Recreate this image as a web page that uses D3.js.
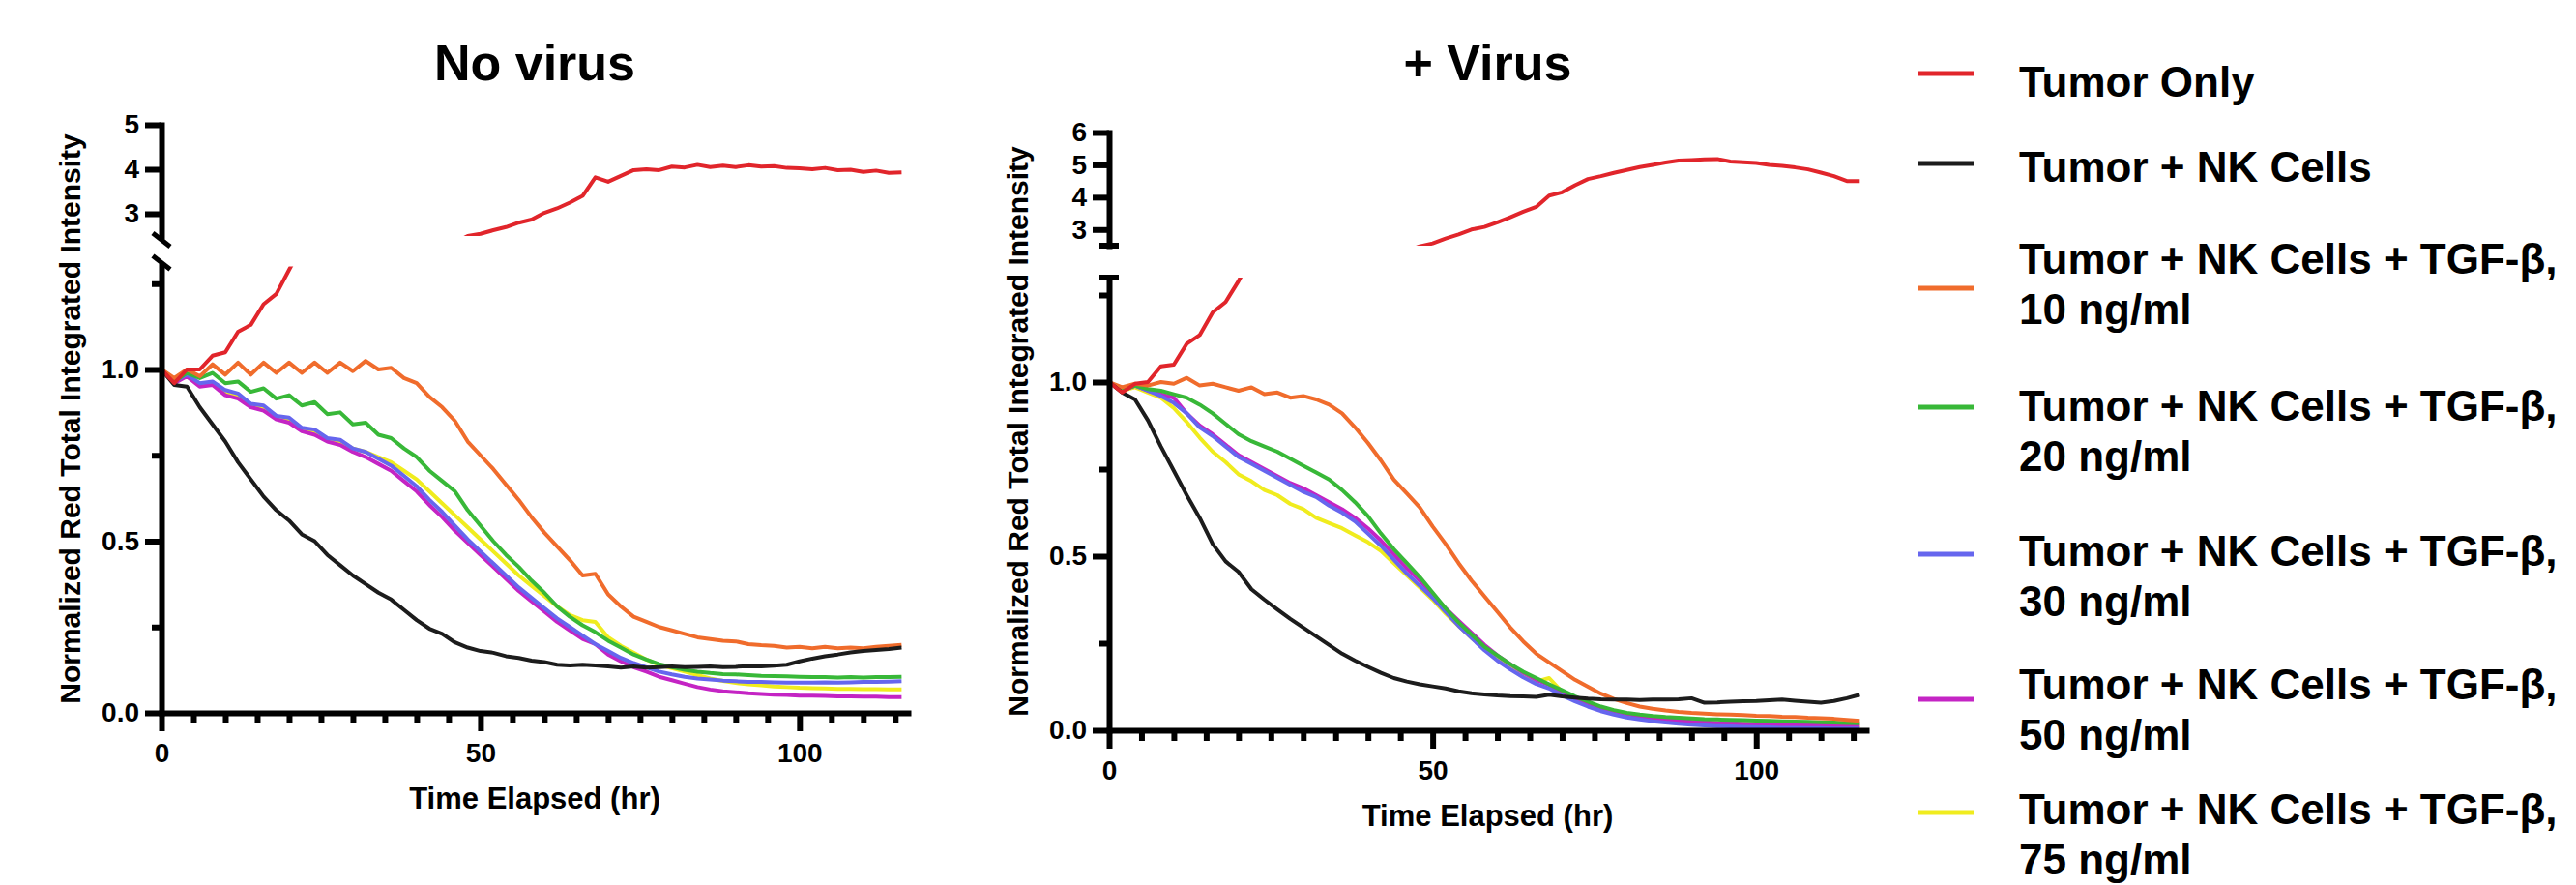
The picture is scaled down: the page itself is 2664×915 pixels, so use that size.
<!DOCTYPE html>
<html>
<head>
<meta charset="utf-8">
<script src="https://cdn.jsdelivr.net/npm/d3@7"></script>
<style>
  body { margin: 0; background: #fff; }
  svg { font-family: "Liberation Sans", Arial, sans-serif; font-weight: bold; }
</style>
</head>
<body>
<svg id="chart" width="2664" height="915"></svg>
<script>
// time points (hr), one scan every 2 hr
var hours = [0, 2, 4, 6, 8, 10, 12, 14, 16, 18,
    20, 22, 24, 26, 28, 30, 32, 34, 36, 38,
    40, 42, 44, 46, 48, 50, 52, 54, 56, 58,
    60, 62, 64, 66, 68, 70, 72, 74, 76, 78,
    80, 82, 84, 86, 88, 90, 92, 94, 96, 98,
    100, 102, 104, 106, 108, 110, 112, 114, 116];

var legendLabels = [
    ["Tumor Only"],
    ["Tumor + NK Cells"],
    ["Tumor + NK Cells + TGF-β,", "10 ng/ml"],
    ["Tumor + NK Cells + TGF-β,", "20 ng/ml"],
    ["Tumor + NK Cells + TGF-β,", "30 ng/ml"],
    ["Tumor + NK Cells + TGF-β,", "50 ng/ml"],
    ["Tumor + NK Cells + TGF-β,", "75 ng/ml"]
];
var seriesColors = ["#e1252b", "#1c1c1c", "#f06c2c", "#38b838", "#6666ee", "#c424c4", "#f0ec1e"];

var panelTitles = ["No virus", "+ Virus"];
var xMajorTicks = [0, 50, 100];
var xMinorTicks = [5, 10, 15, 20, 25, 30, 35, 40, 45, 55, 60, 65, 70, 75, 80, 85, 90, 95, 105, 110, 115];
var lowMajorTicks = [0, 0.5, 1.0];
var lowMinorTicks = [0.25, 0.75, 1.25];
var highTicksNoVirus = [3, 4, 5];
var highTicksVirus = [3, 4, 5, 6];

// ---- No virus ----
var nvTumorOnly = [1.0, 0.96, 1.0, 1.0, 1.04, 1.05, 1.11, 1.13, 1.19, 1.22,
    1.29, 1.36, 1.43, 1.5, 1.57, 1.64, 1.71, 1.78, 1.86, 1.94,
    2.02, 2.1, 2.2, 2.35, 2.5, 2.55, 2.63, 2.7, 2.8, 2.87,
    3.02, 3.12, 3.25, 3.4, 3.82, 3.72, 3.85, 3.98, 4.0, 3.98,
    4.06, 4.04, 4.1, 4.05, 4.08, 4.05, 4.09, 4.06, 4.07, 4.03,
    4.02, 4.0, 4.03, 3.98, 3.99, 3.94, 3.97, 3.92, 3.93];
var nvNK = [1.0, 0.955, 0.95, 0.89, 0.84, 0.79, 0.73, 0.68, 0.63, 0.59,
    0.56, 0.52, 0.5, 0.46, 0.43, 0.4, 0.375, 0.35, 0.33, 0.3,
    0.27, 0.245, 0.23, 0.205, 0.19, 0.18, 0.175, 0.165, 0.16, 0.152,
    0.148, 0.14, 0.138, 0.14, 0.138, 0.135, 0.132, 0.135, 0.132, 0.133,
    0.135, 0.133, 0.134, 0.135, 0.133, 0.134, 0.136, 0.135, 0.137, 0.14,
    0.15, 0.158, 0.165, 0.17, 0.176, 0.18, 0.183, 0.186, 0.19];
var nvTGF10 = [1.0, 0.975, 1.0, 0.98, 1.015, 0.985, 1.02, 0.985, 1.02, 0.99,
    1.02, 0.99, 1.02, 0.99, 1.02, 0.995, 1.025, 1.0, 1.005, 0.975,
    0.96, 0.92, 0.89, 0.85, 0.79, 0.75, 0.71, 0.665, 0.62, 0.57,
    0.525, 0.485, 0.445, 0.4, 0.405, 0.345, 0.31, 0.28, 0.265, 0.25,
    0.24, 0.23, 0.22, 0.215, 0.21, 0.208, 0.2, 0.197, 0.195, 0.19,
    0.192, 0.188, 0.192, 0.188, 0.19, 0.188, 0.192, 0.195, 0.198];
var nvTGF20 = [1.0, 0.965, 0.99, 0.975, 0.99, 0.96, 0.965, 0.935, 0.945, 0.915,
    0.925, 0.895, 0.905, 0.87, 0.875, 0.84, 0.845, 0.81, 0.8, 0.77,
    0.745, 0.705, 0.675, 0.645, 0.59, 0.545, 0.5, 0.46, 0.425, 0.385,
    0.35, 0.31, 0.28, 0.255, 0.235, 0.21, 0.19, 0.17, 0.155, 0.142,
    0.133, 0.125, 0.12, 0.116, 0.113, 0.112, 0.11, 0.108, 0.107, 0.106,
    0.105, 0.104, 0.104, 0.103, 0.104, 0.103, 0.104, 0.104, 0.105];
var nvTGF30 = [1.0, 0.965, 0.985, 0.96, 0.965, 0.94, 0.93, 0.9, 0.895, 0.865,
    0.86, 0.83, 0.825, 0.8, 0.795, 0.77, 0.76, 0.74, 0.72, 0.69,
    0.66, 0.62, 0.585, 0.545, 0.505, 0.47, 0.435, 0.4, 0.365, 0.335,
    0.305, 0.275, 0.25, 0.225, 0.2, 0.18, 0.16, 0.145, 0.133, 0.12,
    0.112, 0.105, 0.1, 0.097, 0.094, 0.092, 0.09, 0.09, 0.089, 0.088,
    0.088, 0.088, 0.089, 0.088, 0.089, 0.09, 0.09, 0.091, 0.092];
var nvTGF50 = [1.0, 0.96, 0.98, 0.95, 0.955, 0.925, 0.915, 0.89, 0.88, 0.855,
    0.845, 0.82, 0.81, 0.79, 0.78, 0.76, 0.745, 0.725, 0.705, 0.675,
    0.645, 0.605, 0.57, 0.53, 0.495, 0.46, 0.425, 0.39, 0.355, 0.325,
    0.295, 0.265, 0.24, 0.215, 0.2, 0.17, 0.15, 0.133, 0.12, 0.105,
    0.095, 0.085, 0.075, 0.068, 0.063, 0.06, 0.057, 0.055, 0.053, 0.052,
    0.05, 0.05, 0.049, 0.048, 0.048, 0.047, 0.047, 0.046, 0.046];
var nvTGF75 = [1.0, 0.96, 0.985, 0.955, 0.96, 0.93, 0.92, 0.895, 0.885, 0.86,
    0.85, 0.825, 0.815, 0.795, 0.79, 0.77, 0.76, 0.745, 0.73, 0.705,
    0.68, 0.645, 0.61, 0.575, 0.54, 0.505, 0.47, 0.435, 0.4, 0.37,
    0.34, 0.31, 0.285, 0.27, 0.265, 0.22, 0.195, 0.175, 0.155, 0.14,
    0.13, 0.12, 0.11, 0.1, 0.093, 0.087, 0.083, 0.08, 0.077, 0.075,
    0.073, 0.072, 0.071, 0.07, 0.07, 0.069, 0.069, 0.068, 0.068];

// ---- + Virus ----
var vTumorOnly = [1.0, 0.97, 0.995, 1.0, 1.045, 1.05, 1.11, 1.135, 1.2, 1.23,
    1.29, 1.36, 1.43, 1.5, 1.58, 1.66, 1.74, 1.82, 1.9, 1.98,
    2.06, 2.14, 2.24, 2.34, 2.48, 2.57, 2.72, 2.85, 3.0, 3.08,
    3.22, 3.38, 3.55, 3.7, 4.05, 4.15, 4.37, 4.56, 4.65, 4.75,
    4.84, 4.93, 5.0, 5.07, 5.13, 5.15, 5.17, 5.18, 5.1, 5.08,
    5.06, 5.0, 4.97, 4.92, 4.86, 4.76, 4.65, 4.5, 4.5];
var vNK = [1.0, 0.97, 0.95, 0.89, 0.815, 0.745, 0.675, 0.61, 0.535, 0.485,
    0.455, 0.405, 0.375, 0.347, 0.32, 0.295, 0.27, 0.245, 0.22, 0.2,
    0.182, 0.165, 0.15, 0.14, 0.132, 0.126, 0.12, 0.112, 0.106, 0.103,
    0.1, 0.098, 0.097, 0.096, 0.102, 0.097, 0.094, 0.091, 0.089, 0.088,
    0.088, 0.087, 0.088, 0.088, 0.089, 0.092, 0.079, 0.08, 0.082, 0.083,
    0.084, 0.086, 0.088, 0.085, 0.082, 0.079, 0.084, 0.092, 0.102];
var vTGF10 = [1.0, 0.985, 0.995, 0.99, 1.0, 0.995, 1.012, 0.99, 0.995, 0.985,
    0.975, 0.985, 0.965, 0.97, 0.955, 0.96, 0.95, 0.935, 0.91, 0.87,
    0.825, 0.775, 0.72, 0.68, 0.64, 0.585, 0.535, 0.48, 0.43, 0.385,
    0.34, 0.295, 0.255, 0.22, 0.195, 0.17, 0.145, 0.125, 0.105, 0.09,
    0.078, 0.068, 0.062, 0.057, 0.053, 0.05, 0.048, 0.046, 0.045, 0.044,
    0.042, 0.041, 0.039, 0.038, 0.036, 0.035, 0.033, 0.03, 0.027];
var vTGF20 = [1.0, 0.975, 0.99, 0.98, 0.975, 0.965, 0.955, 0.935, 0.91, 0.88,
    0.85, 0.83, 0.815, 0.8, 0.78, 0.76, 0.74, 0.72, 0.69, 0.655,
    0.615, 0.565, 0.52, 0.48, 0.44, 0.395, 0.35, 0.31, 0.275, 0.24,
    0.215, 0.19, 0.168, 0.15, 0.132, 0.115, 0.097, 0.082, 0.068, 0.058,
    0.05, 0.045, 0.041, 0.038, 0.036, 0.034, 0.032, 0.031, 0.03, 0.029,
    0.028, 0.027, 0.026, 0.025, 0.024, 0.023, 0.022, 0.021, 0.02];
var vTGF30 = [1.0, 0.975, 0.99, 0.975, 0.96, 0.94, 0.91, 0.87, 0.845, 0.815,
    0.785, 0.765, 0.745, 0.725, 0.705, 0.685, 0.67, 0.645, 0.625, 0.6,
    0.565, 0.53, 0.49, 0.45, 0.415, 0.38, 0.34, 0.3, 0.265, 0.23,
    0.2, 0.175, 0.152, 0.133, 0.12, 0.1, 0.083, 0.068, 0.055, 0.045,
    0.037, 0.031, 0.026, 0.022, 0.019, 0.016, 0.014, 0.012, 0.011, 0.01,
    0.009, 0.008, 0.007, 0.007, 0.006, 0.006, 0.005, 0.005, 0.005];
var vTGF50 = [1.0, 0.975, 0.99, 0.975, 0.965, 0.955, 0.91, 0.875, 0.85, 0.82,
    0.79, 0.77, 0.75, 0.73, 0.71, 0.695, 0.675, 0.655, 0.635, 0.61,
    0.58, 0.545, 0.505, 0.465, 0.43, 0.39, 0.35, 0.315, 0.28, 0.245,
    0.215, 0.19, 0.165, 0.145, 0.13, 0.11, 0.093, 0.078, 0.065, 0.055,
    0.047, 0.04, 0.035, 0.031, 0.028, 0.025, 0.023, 0.021, 0.02, 0.019,
    0.018, 0.017, 0.016, 0.015, 0.015, 0.014, 0.014, 0.013, 0.013];
var vTGF75 = [1.0, 0.975, 0.985, 0.97, 0.955, 0.925, 0.885, 0.84, 0.8, 0.77,
    0.735, 0.715, 0.69, 0.675, 0.65, 0.635, 0.61, 0.595, 0.58, 0.56,
    0.54, 0.515, 0.48, 0.445, 0.41, 0.375, 0.335, 0.3, 0.265, 0.235,
    0.205, 0.18, 0.158, 0.14, 0.15, 0.11, 0.09, 0.075, 0.063, 0.053,
    0.045, 0.039, 0.034, 0.03, 0.027, 0.024, 0.022, 0.02, 0.019, 0.018,
    0.017, 0.016, 0.015, 0.015, 0.014, 0.014, 0.013, 0.013, 0.013];

var xDomain = [0, 117];
var lowDomain = [0, 1.3];

// layout of the two panels (pixel positions only)
var panels = [
    { title: panelTitles[0], data: [nvTumorOnly, nvNK, nvTGF10, nvTGF20, nvTGF30, nvTGF50, nvTGF75],
      left: 167, right: 939, bottom: 737, lowTop: 275.5, highBottom: 244, highTop: 129,
      highDomain: [2.5, 5], highTicks: highTicksNoVirus, breakMark: "slash" },
    { title: panelTitles[1], data: [vTumorOnly, vNK, vTGF10, vTGF20, vTGF30, vTGF50, vTGF75],
      left: 1147, right: 1930, bottom: 755, lowTop: 287, highBottom: 254, highTop: 137,
      highDomain: [2.5, 6], highTicks: highTicksVirus, breakMark: "cap" }
];

var svg = d3.select("#chart");
var defs = svg.append("defs");
var fontFamily = '"Liberation Sans", Arial, sans-serif';

function styleAxis(sel) {
    sel.attr("font-size", 28)
        .attr("font-family", fontFamily)
        .attr("font-weight", "bold");
    sel.selectAll("path, line")
        .attr("stroke", "#000")
        .attr("stroke-width", 6);
    sel.selectAll(".domain").attr("stroke-linecap", "square");
    sel.selectAll("text").attr("fill", "#000");
}

panels.forEach(function (p, pi) {
    var g = svg.append("g");

    var x = d3.scaleLinear().domain(xDomain).range([p.left, p.right]);
    var yLow = d3.scaleLinear().domain(lowDomain).range([p.bottom, p.lowTop]);
    var yHigh = d3.scaleLinear().domain(p.highDomain).range([p.highBottom, p.highTop]);

    // clip regions for the two y segments
    defs.append("clipPath").attr("id", "clipLow" + pi)
        .append("rect")
        .attr("x", p.left).attr("y", p.lowTop)
        .attr("width", p.right - p.left + 6).attr("height", p.bottom - p.lowTop + 2);
    defs.append("clipPath").attr("id", "clipHigh" + pi)
        .append("rect")
        .attr("x", p.left).attr("y", p.highTop - 4)
        .attr("width", p.right - p.left + 6).attr("height", p.highBottom - p.highTop + 4);

    var lineLow = d3.line()
        .x(function (d, i) { return x(hours[i]); })
        .y(function (d) { return yLow(d); });
    var lineHigh = d3.line()
        .x(function (d, i) { return x(hours[i]); })
        .y(function (d) { return yHigh(d); });

    var lowG = g.append("g").attr("clip-path", "url(#clipLow" + pi + ")");
    var highG = g.append("g").attr("clip-path", "url(#clipHigh" + pi + ")");

    // draw last series first so Tumor Only ends up on top
    for (var s = p.data.length - 1; s >= 0; s--) {
        [[lowG, lineLow], [highG, lineHigh]].forEach(function (pair) {
            pair[0].append("path")
                .datum(p.data[s])
                .attr("fill", "none")
                .attr("stroke", seriesColors[s])
                .attr("stroke-width", 4)
                .attr("stroke-linejoin", "round")
                .attr("d", pair[1]);
        });
    }

    // x axis
    g.append("g")
        .attr("transform", "translate(0," + p.bottom + ")")
        .call(d3.axisBottom(x).tickValues(xMajorTicks).tickSize(19).tickPadding(12).tickSizeOuter(0))
        .call(styleAxis);
    g.append("g")
        .attr("transform", "translate(0," + p.bottom + ")")
        .call(d3.axisBottom(x).tickValues(xMinorTicks).tickSize(11).tickFormat(""))
        .call(styleAxis)
        .select(".domain").remove();

    // lower y axis
    g.append("g")
        .attr("transform", "translate(" + p.left + ",0)")
        .call(d3.axisLeft(yLow).tickValues(lowMajorTicks).tickFormat(d3.format(".1f"))
            .tickSize(17).tickPadding(6).tickSizeOuter(0))
        .call(styleAxis);
    g.append("g")
        .attr("transform", "translate(" + p.left + ",0)")
        .call(d3.axisLeft(yLow).tickValues(lowMinorTicks).tickSize(10).tickFormat(""))
        .call(styleAxis)
        .select(".domain").remove();

    // upper y axis
    g.append("g")
        .attr("transform", "translate(" + p.left + ",0)")
        .call(d3.axisLeft(yHigh).tickValues(p.highTicks).tickFormat(d3.format("d"))
            .tickSize(17).tickPadding(6).tickSizeOuter(0))
        .call(styleAxis);

    // axis break marks
    if (p.breakMark === "slash") {
        [p.highBottom + 4, p.lowTop - 4].forEach(function (cy) {
            g.append("line")
                .attr("x1", p.left - 9).attr("y1", cy - 7)
                .attr("x2", p.left + 9).attr("y2", cy + 7)
                .attr("stroke", "#000").attr("stroke-width", 5);
        });
    } else {
        [p.highBottom, p.lowTop].forEach(function (cy) {
            g.append("line")
                .attr("x1", p.left - 10).attr("y1", cy)
                .attr("x2", p.left + 10).attr("y2", cy)
                .attr("stroke", "#000").attr("stroke-width", 6);
        });
    }

    // titles
    g.append("text")
        .attr("x", (p.left + p.right) / 2)
        .attr("y", 83)
        .attr("text-anchor", "middle")
        .attr("font-size", 52)
        .text(p.title);

    g.append("text")
        .attr("x", (p.left + p.right) / 2)
        .attr("y", p.bottom + 99)
        .attr("text-anchor", "middle")
        .attr("font-size", 31)
        .text("Time Elapsed (hr)");

    g.append("text")
        .attr("transform", "translate(" + (p.left - 84) + "," + ((p.highTop + p.bottom) / 2) + ") rotate(-90)")
        .attr("text-anchor", "middle")
        .attr("font-size", 30)
        .text("Normalized Red Total Integrated Intensity");
});

// legend
var legendSwatchY = [76, 169, 298, 421, 573, 723, 840];
var legendTextY = [100, 188, 283, 435, 585, 723, 852];
var legend = svg.append("g");

legendLabels.forEach(function (lines, i) {
    legend.append("line")
        .attr("x1", 1984).attr("x2", 2041)
        .attr("y1", legendSwatchY[i]).attr("y2", legendSwatchY[i])
        .attr("stroke", seriesColors[i])
        .attr("stroke-width", 5);

    var t = legend.append("text")
        .attr("x", 2088)
        .attr("y", legendTextY[i])
        .attr("font-size", 44);
    lines.forEach(function (line, j) {
        t.append("tspan")
            .attr("x", 2088)
            .attr("dy", j === 0 ? 0 : 52)
            .text(line);
    });
});
</script>
</body>
</html>
